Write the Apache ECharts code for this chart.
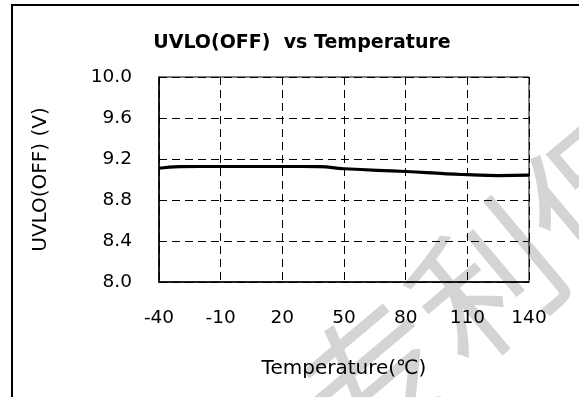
<!DOCTYPE html>
<html>
<head>
<meta charset="utf-8">
<title>UVLO(OFF) vs Temperature</title>
<script src="https://cdn.jsdelivr.net/npm/echarts@6/dist/echarts.min.js"></script>
<style>
  html, body { margin: 0; padding: 0; background: #fff; }
  #chart { width: 579px; height: 397px; }
</style>
</head>
<body>
<div id="chart"></div>
<script>
// values
const temps = [-40, -30, -10, 20, 38, 50, 80, 100, 110, 125, 140]
const uvloOff = [9.11, 9.125, 9.127, 9.127, 9.126, 9.105, 9.078, 9.055, 9.047, 9.038, 9.042]

const FONT = 'DejaVu Sans'

const chart = echarts.init(document.getElementById('chart'))

chart.setOption({
  backgroundColor: '#fff',
  animation: false,
  title: {
    text: 'UVLO(OFF)  vs Temperature',
    left: 297,
    top: 29,
    textAlign: 'center',
    textStyle: { fontFamily: FONT, fontSize: 19, fontWeight: 'bold', color: '#000' },
  },
  graphic: [
    {
      // light watermark behind the plot
      type: 'text',
      x: 320,
      y: 422,
      rotation: (40 * Math.PI) / 180,
      z: -10,
      silent: true,
      style: {
        text: '专利保',
        fontSize: 145,
        fontFamily: 'Noto Sans CJK SC',
        fill: '#d4d4d4',
        align: 'left',
        verticalAlign: 'middle',
      },
    },
    {
      type: 'rect',
      shape: { x: 12, y: 5, width: 620, height: 430 },
      style: { fill: 'none', stroke: '#000', lineWidth: 2 },
      silent: true,
    },
  ],
  grid: {
    left: 159,
    right: 50,
    top: 77,
    bottom: 115,
    show: true,
    borderColor: '#000',
    borderWidth: 1,
    backgroundColor: 'transparent',
  },
  xAxis: {
    type: 'value',
    min: -40,
    max: 140,
    interval: 30,
    name: 'Temperature(℃)',
    nameLocation: 'middle',
    nameGap: 77,
    nameTextStyle: { fontFamily: FONT, fontSize: 20, color: '#000' },
    axisLine: { onZero: false, lineStyle: { color: '#000', width: 1.5 } },
    axisTick: { show: false },
    axisLabel: { fontFamily: FONT, fontSize: 18.5, color: '#000', margin: 27 },
    splitLine: { show: true, lineStyle: { color: '#000', type: [8, 5], width: 1 } },
  },
  yAxis: {
    type: 'value',
    min: 8,
    max: 10,
    interval: 0.4,
    name: 'UVLO(OFF) (V)',
    nameLocation: 'middle',
    nameGap: 108,
    nameTextStyle: { fontFamily: FONT, fontSize: 20, color: '#000' },
    axisLine: { show: true, onZero: false, lineStyle: { color: '#000', width: 1.5 } },
    axisTick: { show: false },
    axisLabel: {
      fontFamily: FONT,
      fontSize: 18.5,
      color: '#000',
      margin: 27,
      formatter: v => v.toFixed(1),
    },
    splitLine: { show: true, lineStyle: { color: '#000', type: [8, 5], width: 1 } },
  },
  series: [
    {
      type: 'line',
      data: temps.map((t, i) => [t, uvloOff[i]]),
      smooth: true,
      showSymbol: false,
      lineStyle: { color: '#000', width: 3.2 },
    },
  ],
})
</script>
</body>
</html>
